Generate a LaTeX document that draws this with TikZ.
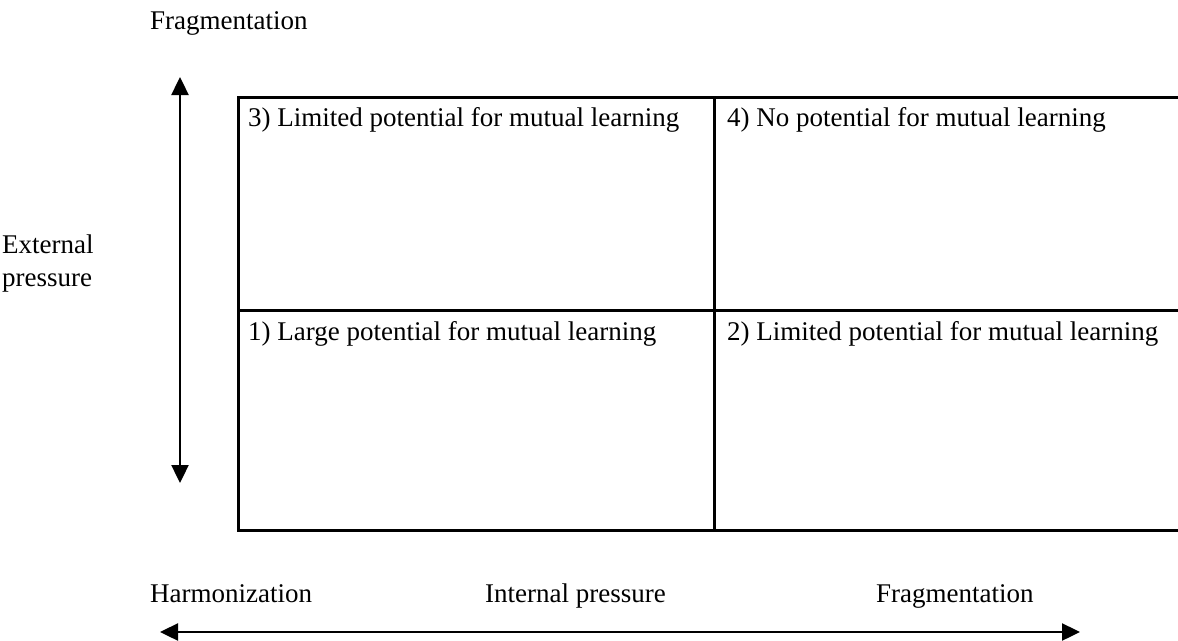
\documentclass[tikz,border=0pt]{standalone}
\usepackage{fontspec}
\setmainfont{Liberation Serif}
\usetikzlibrary{arrows.meta}
\begin{document}
\begin{tikzpicture}[x=1pt,y=-1pt,
  lbl/.style={anchor=base west,inner sep=0pt,font=\fontsize{27}{31}\selectfont},
  grid/.style={line width=3pt},
  axis/.style={line width=2.4pt,{Triangle[length=18pt,width=17pt]}-{Triangle[length=18pt,width=17pt]}}]
\useasboundingbox (0,0) rectangle (1178,640);
% coordinates
\coordinate (tl) at (238,97);
\coordinate (tr) at (1178,97);
\coordinate (ml) at (238,310);
\coordinate (mr) at (1178,310);
\coordinate (bl) at (238,530);
\coordinate (br) at (1178,530);
\coordinate (tm) at (714,97);
\coordinate (bm) at (714,530);
\coordinate (vt) at (180,77);
\coordinate (vb) at (180,483);
\coordinate (hl) at (160,632);
\coordinate (hr) at (1080,632);
% grid
\draw[grid] (tr) -- (tl) -- (bl) -- (br);
\draw[grid] (ml) -- (mr);
\draw[grid] (tm) -- (bm);
% axes
\draw[axis] (vb) -- (vt);
\draw[axis] (hl) -- (hr);
% labels
\node[lbl] (ftop) at (150,29) {Fragmentation};
\node[lbl] (ext1) at (2,253) {External};
\node[lbl] (ext2) at (2,286) {pressure};
\node[lbl] (q3) at (248,126) {3) Limited potential for mutual learning};
\node[lbl] (q4) at (727,126) {4) No potential for mutual learning};
\node[lbl] (q1) at (248,340) {1) Large potential for mutual learning};
\node[lbl] (q2) at (727,340) {2) Limited potential for mutual learning};
\node[lbl] (harm) at (150,602) {Harmonization};
\node[lbl] (intp) at (485,602) {Internal pressure};
\node[lbl] (fbot) at (876,602) {Fragmentation};
\end{tikzpicture}
\end{document}
